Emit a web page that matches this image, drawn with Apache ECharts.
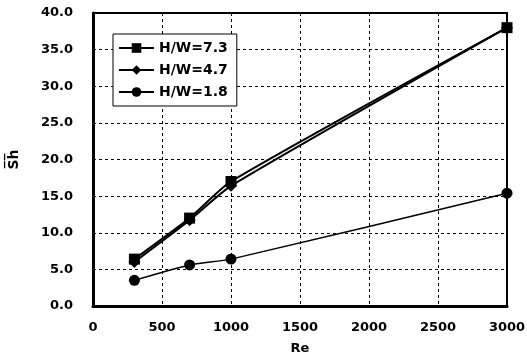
<!DOCTYPE html>
<html><head><meta charset="utf-8">
<script src="https://cdn.jsdelivr.net/npm/echarts@6/dist/echarts.min.js"></script>
<style>html,body{margin:0;padding:0;background:#fff}#c{width:527px;height:357px}</style>
</head><body><div id="c"></div>
<script>
const reValues = [300, 700, 1000, 3000];
const hw73 = [6.4, 12.0, 17.0, 38.0];
const hw47 = [6.0, 11.7, 16.4, 38.0];
const hw18 = [3.5, 5.6, 6.4, 15.4];
const seriesNames = ['H/W=7.3', 'H/W=4.7', 'H/W=1.8'];
const symbols = ['rect', 'diamond', 'circle'];
const symbolSizes = [11, 12, 11];
const seriesData = [hw73, hw47, hw18];

const font = 'DejaVu Sans';
const chart = echarts.init(document.getElementById('c'));
chart.setOption({
  animation: false,
  backgroundColor: '#fff',
  grid: {left: 93, right: 20, top: 13, bottom: 51, show: true, borderColor: '#000', borderWidth: 2, outerBoundsMode: 'none', containLabel: false},
  legend: {
    left: 113, top: 34, orient: 'vertical', itemGap: 8,
    itemWidth: 35, itemHeight: 12,
    padding: [7, 9, 7, 5],
    borderColor: '#000', borderWidth: 1, backgroundColor: '#fff',
    textStyle: {fontFamily: font, fontSize: 14, fontWeight: 'bold', color: '#000', padding: [0, 0, 0, 0]},
    data: seriesNames
  },
  xAxis: {
    type: 'value', min: 0, max: 3000, interval: 500,
    name: 'Re', nameLocation: 'middle', nameGap: 36,
    nameTextStyle: {fontFamily: font, fontSize: 13, fontWeight: 'bold', color: '#000'},
    axisLine: {lineStyle: {color: '#000', width: 3}},
    axisTick: {show: false},
    axisLabel: {fontFamily: font, fontSize: 13, fontWeight: 'bold', color: '#000', margin: 15, formatter: v => String(v)},
    splitLine: {lineStyle: {color: '#000', type: [3, 3], width: 1}}
  },
  yAxis: {
    type: 'value', min: 0, max: 40, interval: 5,
    name: 'S\u0305h\u0305', nameLocation: 'middle', nameGap: 72, nameRotate: 90,
    nameTextStyle: {fontFamily: font, fontSize: 14, fontWeight: 'bold', color: '#000'},
    axisLine: {show: true, lineStyle: {color: '#000', width: 3}},
    axisTick: {show: false},
    axisLabel: {fontFamily: font, fontSize: 13, fontWeight: 'bold', color: '#000', margin: 20, formatter: v => v.toFixed(1)},
    splitLine: {lineStyle: {color: '#000', type: [3, 3], width: 1}}
  },
  series: seriesData.map((d, i) => ({
    name: seriesNames[i], type: 'line',
    data: d.map((v, j) => [reValues[j], v]),
    smooth: 0.2,
    symbol: symbols[i], symbolSize: symbolSizes[i],
    itemStyle: {color: '#000'},
    lineStyle: {color: '#000', width: i === 2 ? 1.5 : 2},
    z: 3 - i
  }))
});
</script></body></html>
